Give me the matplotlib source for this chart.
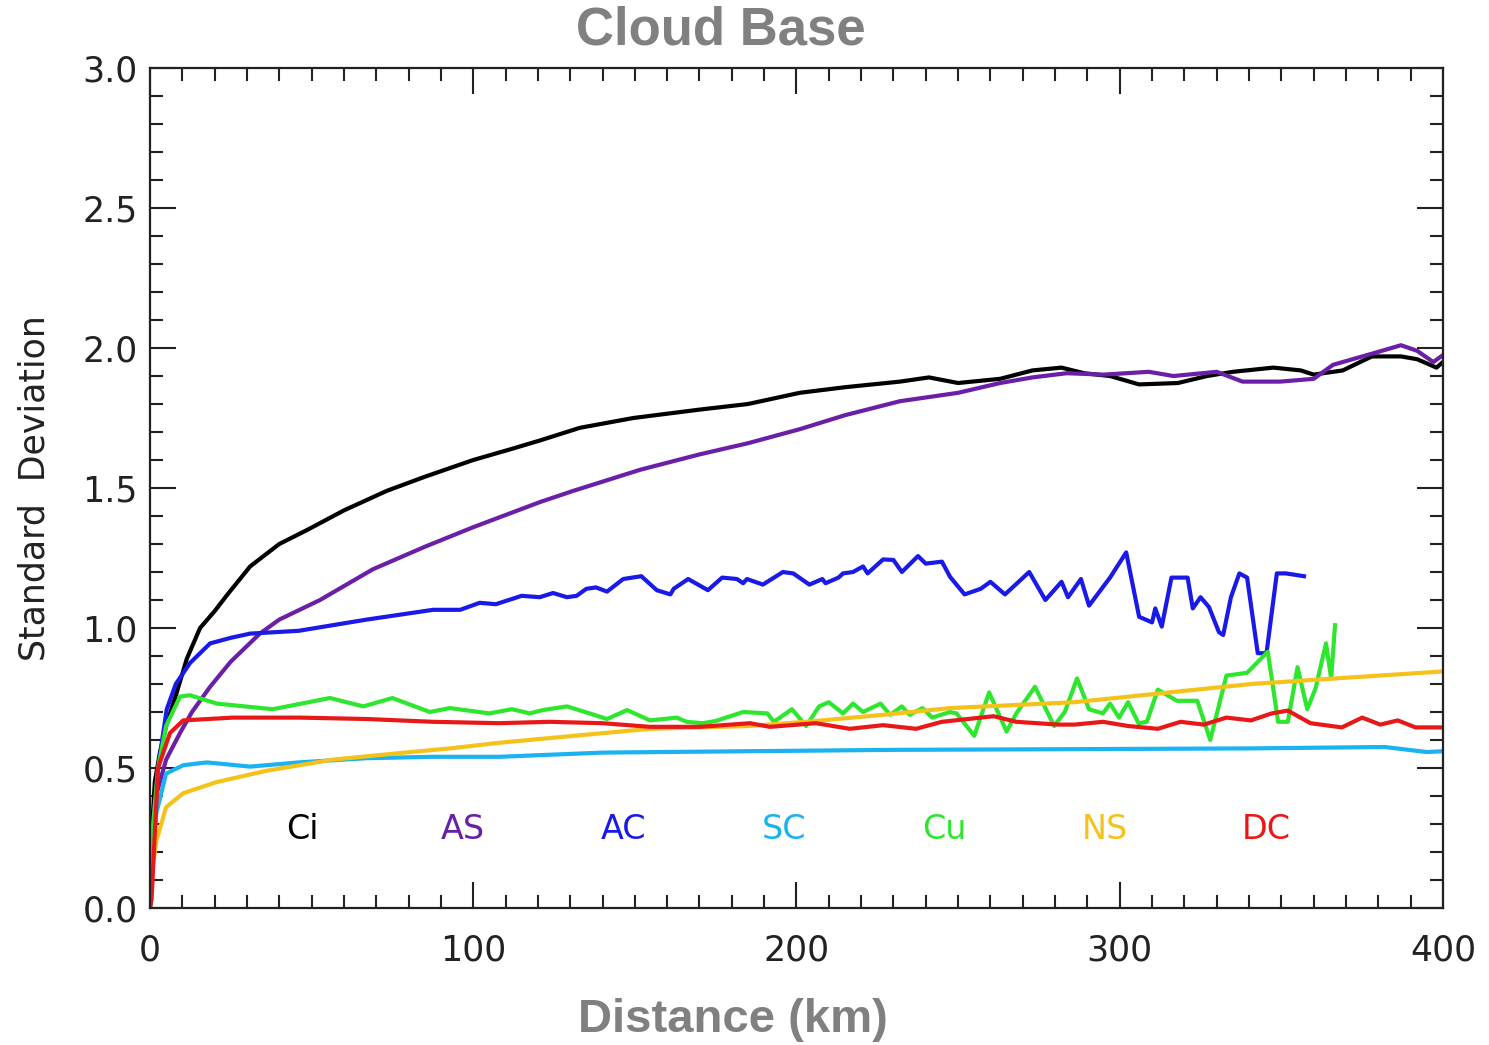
import numpy as np
import matplotlib
matplotlib.use("Agg")
import matplotlib.pyplot as plt
from matplotlib.ticker import MultipleLocator, FormatStrFormatter

# values (distance km, std deviation)
ci_x = [0, 0.5, 1.5, 3, 5, 8.3, 11.4, 15.5, 20, 24, 31, 40, 48.6, 60, 73.3, 85, 100, 112, 120.7, 133,
        149.5, 170, 185, 201, 215, 232, 241, 250, 263, 273, 282, 289, 297, 306, 318, 327, 335, 347.5,
        356, 360, 369, 378, 387, 392, 398, 400]
ci_y = [0, 0.25, 0.45, 0.55, 0.65, 0.77, 0.89, 1.0, 1.06, 1.12, 1.22, 1.30, 1.35, 1.42, 1.49, 1.54, 1.60,
        1.64, 1.67, 1.715, 1.75, 1.78, 1.80, 1.84, 1.86, 1.88, 1.895, 1.875, 1.89, 1.92, 1.93, 1.91, 1.90,
        1.87, 1.875, 1.90, 1.915, 1.93, 1.92, 1.905, 1.92, 1.97, 1.97, 1.96, 1.93, 1.95]

as_x = [0, 1, 2.1, 5, 9.3, 13, 18.6, 25, 34, 40, 52.6, 69, 85, 100, 120.7, 131, 151.6, 170, 185, 201,
        215, 232, 250, 263, 273, 283.6, 295, 309, 316.6, 330, 338, 349.6, 360, 366, 372, 379.6, 387,
        392, 397, 400]
as_y = [0, 0.25, 0.41, 0.53, 0.625, 0.7, 0.79, 0.88, 0.98, 1.03, 1.10, 1.21, 1.29, 1.36, 1.45, 1.49,
        1.565, 1.62, 1.66, 1.71, 1.76, 1.81, 1.84, 1.875, 1.895, 1.91, 1.905, 1.915, 1.90, 1.915, 1.88,
        1.88, 1.89, 1.94, 1.96, 1.985, 2.01, 1.99, 1.95, 1.975]

ac_x = [0, 1, 2.5, 5.2, 8, 12.4, 18.6, 25, 31, 46, 67, 87.6, 96, 102, 107, 115, 120.6, 124.7, 129, 132,
        135, 138, 141.4, 146.4, 152, 156.8, 161, 162, 166.5, 172.6, 177, 181.6, 183.5, 184.7, 189.6,
        195.8, 199, 204, 206, 208, 209, 213, 214.4, 217.5, 220.6, 222, 226.8, 230, 232.6, 237.6, 240,
        245, 247.5, 252, 257, 260, 264.5, 272, 277, 282, 284, 288, 290.5, 297, 302, 306, 310, 311, 313,
        316, 321, 322.6, 325, 327.6, 330.7, 332, 334.4, 337, 339.4, 342.7, 345.4, 348.6, 351.4, 357]
ac_y = [0, 0.3, 0.5, 0.71, 0.8, 0.875, 0.945, 0.965, 0.98, 0.99, 1.03, 1.065, 1.065, 1.09, 1.085, 1.115,
        1.11, 1.125, 1.11, 1.115, 1.14, 1.145, 1.13, 1.175, 1.185, 1.135, 1.12, 1.14, 1.175, 1.135, 1.18,
        1.175, 1.16, 1.175, 1.155, 1.20, 1.195, 1.155, 1.165, 1.175, 1.16, 1.18, 1.195, 1.20, 1.22, 1.195,
        1.245, 1.243, 1.20, 1.257, 1.23, 1.237, 1.183, 1.12, 1.14, 1.165, 1.12, 1.20, 1.10, 1.165, 1.11,
        1.175, 1.08, 1.18, 1.27, 1.04, 1.02, 1.07, 1.005, 1.18, 1.18, 1.07, 1.11, 1.075, 0.985, 0.975,
        1.11, 1.195, 1.18, 0.91, 0.91, 1.195, 1.195, 1.185]

sc_x = [0, 1, 2, 5, 10.3, 17.6, 31, 46, 67, 87.6, 108, 140, 185, 232, 280, 340, 382, 395, 400]
sc_y = [0, 0.2, 0.34, 0.48, 0.51, 0.52, 0.505, 0.52, 0.535, 0.54, 0.54, 0.555, 0.56, 0.565, 0.567,
        0.57, 0.575, 0.557, 0.56]

cu_x = [0, 1, 2.5, 5, 9.3, 12.4, 20.7, 38, 55.7, 66, 75, 86.6, 92.8, 105, 112, 117.5, 121.6, 129, 136,
        141.4, 147.6, 154.7, 163, 166, 171, 175, 183.5, 191, 193, 198.6, 203, 207, 210, 214.4, 217.5,
        220.6, 226, 229, 232.6, 235, 239, 242, 247.5, 249.5, 255, 259.6, 265, 268, 273.8, 279.7, 283,
        286.8, 290.5, 294.8, 297, 299.8, 302.6, 305.8, 308.4, 311.8, 317.7, 324, 328, 333, 339.4,
        345.8, 349, 352, 355, 358, 360.6, 363.8, 365.4, 366.6]
cu_y = [0, 0.3, 0.5, 0.65, 0.755, 0.76, 0.73, 0.71, 0.75, 0.72, 0.75, 0.70, 0.714, 0.695, 0.71, 0.695,
        0.707, 0.72, 0.695, 0.675, 0.707, 0.67, 0.68, 0.665, 0.66, 0.668, 0.70, 0.695, 0.665, 0.71, 0.65,
        0.72, 0.735, 0.695, 0.73, 0.70, 0.73, 0.69, 0.72, 0.69, 0.714, 0.68, 0.70, 0.695, 0.615, 0.77,
        0.63, 0.695, 0.79, 0.65, 0.70, 0.82, 0.71, 0.695, 0.73, 0.68, 0.735, 0.66, 0.665, 0.78, 0.74,
        0.74, 0.60, 0.83, 0.84, 0.915, 0.665, 0.665, 0.86, 0.71, 0.785, 0.945, 0.82, 1.01]

ns_x = [0, 0.5, 2, 5, 10.3, 20.7, 36, 56.7, 77, 92.8, 108, 123.7, 154.7, 185.6, 206, 226.8, 247.5, 286,
        340.6, 400]
ns_y = [0, 0.12, 0.24, 0.36, 0.41, 0.45, 0.49, 0.53, 0.553, 0.57, 0.59, 0.607, 0.64, 0.65, 0.668, 0.69,
        0.714, 0.735, 0.80, 0.845]

dc_x = [0, 0.5, 2.5, 6.2, 10.3, 25.7, 46.4, 67, 87.6, 108, 123.7, 140, 154.7, 170, 185.6, 191.8, 206,
        216.5, 226.8, 237, 245, 261, 268, 281, 286, 294.8, 302.6, 311.8, 318.8, 326, 333, 340.6, 347,
        352, 359, 368.7, 375, 380.6, 386, 391.5, 400]
dc_y = [0, 0.03, 0.50, 0.625, 0.67, 0.68, 0.68, 0.675, 0.665, 0.66, 0.665, 0.66, 0.647, 0.647, 0.66,
        0.647, 0.66, 0.64, 0.653, 0.64, 0.665, 0.685, 0.665, 0.655, 0.655, 0.665, 0.65, 0.64, 0.665,
        0.655, 0.68, 0.67, 0.695, 0.705, 0.66, 0.645, 0.68, 0.655, 0.67, 0.645, 0.645]

names = ["Ci", "AS", "AC", "SC", "Cu", "NS", "DC"]
colors = ["#000000", "#6a1fa6", "#1a1ae8", "#1ab2f0", "#2ee62e", "#f5c21b", "#e81818"]
series = [(ci_x, ci_y), (as_x, as_y), (ac_x, ac_y), (sc_x, sc_y), (cu_x, cu_y), (ns_x, ns_y), (dc_x, dc_y)]

linewidth = 3.0
grey = "#808080"
dark = "#222222"

fig = plt.figure(figsize=(14.89, 10.45), dpi=100)
ax = fig.add_axes([0.1007, 0.1311, 0.9691 - 0.1007, 0.9349 - 0.1311])

for (x, y), c in zip(series, colors):
    ax.plot(x, y, color=c, linewidth=linewidth, solid_joinstyle="round")

# cloud type labels along the bottom
for i, (name, c) in enumerate(zip(names, colors)):
    ax.text(47 + 49.7 * i, 0.28, name, color=c, fontsize=24, ha="center", va="center")

ax.set_xlim(0, 400)
ax.set_ylim(0, 3.0)
ax.xaxis.set_major_locator(MultipleLocator(100))
ax.xaxis.set_minor_locator(MultipleLocator(10))
ax.yaxis.set_major_locator(MultipleLocator(0.5))
ax.yaxis.set_minor_locator(MultipleLocator(0.1))
ax.yaxis.set_major_formatter(FormatStrFormatter("%.1f"))

ax.tick_params(which="both", direction="in", top=True, right=True, width=1.5, color=dark)
ax.tick_params(which="major", length=19, labelsize=25, labelcolor=dark)
ax.tick_params(which="minor", length=9.5)
ax.tick_params(axis="x", which="major", pad=18)
ax.tick_params(axis="y", which="major", pad=9)
for s in ax.spines.values():
    s.set_linewidth(1.6)
    s.set_color(dark)

ax.set_ylabel("Standard  Deviation", fontsize=25, color=dark, labelpad=22)

fig.text(0.484, 0.971, "Cloud Base", fontsize=38, fontweight="bold", color=grey,
         ha="center", va="center", family="Liberation Sans")
fig.text(0.492, 0.024, "Distance (km)", fontsize=34, fontweight="bold", color=grey,
         ha="center", va="center", family="Liberation Sans")

plt.savefig("out.png", dpi=100)
